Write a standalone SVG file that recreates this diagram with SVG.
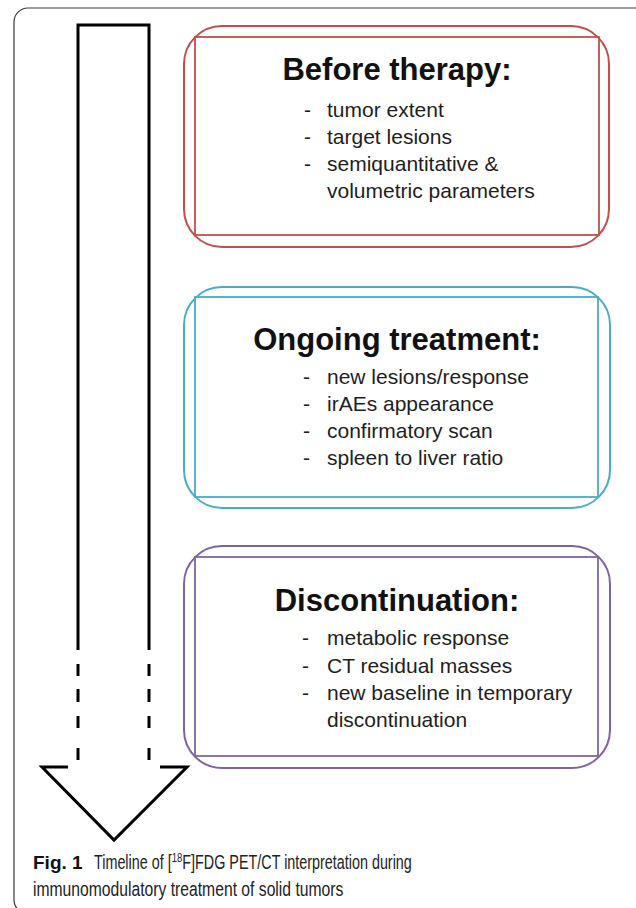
<svg xmlns="http://www.w3.org/2000/svg" width="636" height="908" viewBox="0 0 636 908">
<style>
.frame{fill:none;stroke:#3a3a3a;stroke-width:1.2}
.arrow{fill:none;stroke:#000;stroke-width:3;stroke-linejoin:miter;stroke-linecap:butt}
.outer{fill:none;stroke-width:2}
.inner{fill:none;stroke-width:1.8}
.red{stroke:#c0504d}
.blue{stroke:#4bacc6}
.purple{stroke:#8064a2}
.title{font-family:"Liberation Sans",Arial,sans-serif;font-weight:bold;font-size:31px;fill:#111;text-anchor:middle}
.item{font-family:"Liberation Sans",Arial,sans-serif;font-size:21px;fill:#1e1e1e}
.cap{font-family:"Liberation Sans",Arial,sans-serif;font-size:19.5px;fill:#222}
.capb{font-family:"Liberation Sans",Arial,sans-serif;font-size:19px;font-weight:bold;fill:#111}
</style>
<rect width="636" height="908" fill="#fff"/>
<rect class="frame" x="14" y="8" width="640" height="906" rx="14"/>

<g id="timeline-arrow">
  <path class="arrow" d="M78,650 V25 H149 V650"/>
  <path class="arrow" d="M78,664 V676 M78,689 V702 M78,716 V728 M78,748 V760 M149,664 V676 M149,689 V702 M149,716 V728 M149,748 V760"/>
  <path class="arrow" d="M68,767 H42 L114,840 L187,767 H160"/>
</g>

<g id="before-therapy">
  <rect class="outer red" x="184" y="26" width="425" height="221" rx="38"/>
  <rect class="inner red" x="195" y="37" width="404" height="198"/>
  <text class="title" x="397" y="80">Before therapy:</text>
  <text class="item" x="304" y="117">-</text><text class="item" x="327" y="117">tumor extent</text>
  <text class="item" x="304" y="144">-</text><text class="item" x="327" y="144">target lesions</text>
  <text class="item" x="304" y="171">-</text><text class="item" x="327" y="171">semiquantitative &amp;</text>
  <text class="item" x="327" y="198">volumetric parameters</text>
</g>

<g id="ongoing-treatment">
  <rect class="outer blue" x="184" y="287" width="426" height="221" rx="38"/>
  <rect class="inner blue" x="195" y="297" width="403" height="200"/>
  <text class="title" x="397" y="350">Ongoing treatment:</text>
  <text class="item" x="303" y="384">-</text><text class="item" x="327" y="384">new lesions/response</text>
  <text class="item" x="303" y="411">-</text><text class="item" x="327" y="411">irAEs appearance</text>
  <text class="item" x="303" y="438">-</text><text class="item" x="327" y="438">confirmatory scan</text>
  <text class="item" x="303" y="465">-</text><text class="item" x="327" y="465">spleen to liver ratio</text>
</g>

<g id="discontinuation">
  <rect class="outer purple" x="184" y="546" width="426" height="222" rx="38"/>
  <rect class="inner purple" x="195" y="557" width="403" height="199"/>
  <text class="title" x="397" y="611">Discontinuation:</text>
  <text class="item" x="302" y="645">-</text><text class="item" x="327" y="645">metabolic response</text>
  <text class="item" x="302" y="673">-</text><text class="item" x="327" y="673">CT residual masses</text>
  <text class="item" x="302" y="700">-</text><text class="item" x="327" y="700">new baseline in temporary</text>
  <text class="item" x="327" y="727">discontinuation</text>
</g>

<g id="caption">
  <text class="capb" x="33" y="869">Fig. 1</text>
  <text class="cap" transform="translate(94,869) scale(0.737,1)">Timeline of [<tspan font-size="13" dy="-7">18</tspan><tspan dy="7">F]FDG PET/CT interpretation during</tspan></text>
  <text class="cap" transform="translate(33,896) scale(0.805,1)">immunomodulatory treatment of solid tumors</text>
</g>
</svg>
